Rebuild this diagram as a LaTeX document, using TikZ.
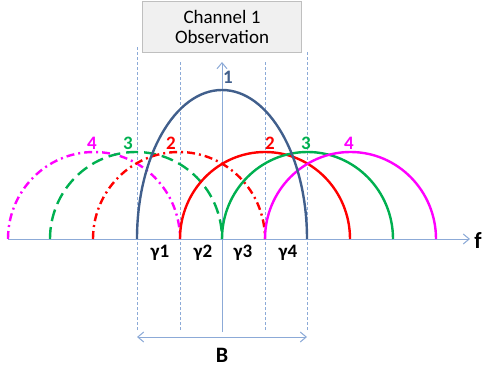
\documentclass[tikz,border=0pt]{standalone}
\usepackage{fontspec}
\setmainfont{Carlito}
\usepackage{tikz}
\usetikzlibrary{arrows.meta, positioning}
\definecolor{chBlue}{RGB}{65, 95, 140}
\definecolor{chRed}{RGB}{255, 0, 0}
\definecolor{chGreen}{RGB}{0, 176, 80}
\definecolor{chMag}{RGB}{255, 0, 255}
\definecolor{axisCol}{RGB}{140, 170, 215}
\definecolor{boxFill}{RGB}{240, 240, 240}
\definecolor{boxLine}{RGB}{191, 191, 191}

\begin{document}
\begin{tikzpicture}[x=1pt, y=1pt, >={Straight Barb[length=6pt, width=10pt]},
  axisline/.style={axisCol, line width=1pt},
  guide/.style={axisCol, line width=0.8pt, dash pattern=on 3pt off 2pt},
  lobe/.style={line width=2.4pt},
  dashdotted/.style={dash pattern=on 8pt off 4pt on 2pt off 4pt},
  longdash/.style={dash pattern=on 12pt off 6pt},
  lbl/.style={font=\fontsize{19}{19}\selectfont\bfseries, inner sep=0pt},
  gam/.style={font=\fontsize{19}{19}\selectfont\bfseries, inner sep=0pt}]
  \useasboundingbox (0,0) rectangle (482,370);

  % Observation box
  \node[draw=boxLine, fill=boxFill, line width=1pt, minimum width=159pt, minimum height=51pt,
        align=center, font=\fontsize{19}{20}\selectfont] (obs) at (222,343) {Channel 1\\Observation};

  % Axes
  \coordinate (o) at (8,131);
  \coordinate (fend) at (470,131);
  \coordinate (vbot) at (222,38);
  \coordinate (vtop) at (222,308);
  \node[lbl, font=\fontsize{23}{23}\selectfont\bfseries] (f) at (478,129) {f};
  \draw[axisline, ->] (o) -- (fend);
  \draw[axisline, ->] (vbot) -- (vtop);

  % Guides
  \draw[guide] (137,40) -- (137,323);
  \draw[guide] (180,40) -- (180,308);
  \draw[guide] (265,40) -- (265,308);
  \draw[guide] (307,40) -- (307,318);

  % Bandwidth
  \coordinate (bl) at (137,33);
  \coordinate (br) at (307,33);
  \draw[axisline, <->] (bl) -- (br);
  \node[lbl, font=\fontsize{22}{22}\selectfont\bfseries] (B) at (222,15) {B};

  % Left (dashed) lobes
  \draw[lobe, chMag, dashdotted] (8,131) arc[start angle=180, end angle=0, x radius=86, y radius=87];
  \draw[lobe, chGreen, longdash] (50,131) arc[start angle=180, end angle=0, x radius=86, y radius=87];
  \draw[lobe, chRed, dashdotted] (93,131) arc[start angle=180, end angle=0, x radius=86, y radius=87];

  % Right (solid) lobes
  \draw[lobe, chRed] (180,131) arc[start angle=180, end angle=0, x radius=85, y radius=87];
  \draw[lobe, chGreen] (222,131) arc[start angle=180, end angle=0, x radius=85.5, y radius=87];
  \draw[lobe, chMag] (265,131) arc[start angle=180, end angle=0, x radius=85.5, y radius=87];

  % Channel 1
  \draw[lobe, chBlue] (137,131) arc[start angle=180, end angle=0, x radius=85, y radius=149];

  % Lobe labels
  \node[lbl, chBlue] (n1) at (228,293) {1};
  \node[lbl, chMag] (l4) at (92,227) {4};
  \node[lbl, chGreen] (l3) at (128,227) {3};
  \node[lbl, chRed] (l2) at (171,227) {2};
  \node[lbl, chRed] (r2) at (270,227) {2};
  \node[lbl, chGreen] (r3) at (306,227) {3};
  \node[lbl, chMag] (r4) at (349,227) {4};

  % Sub-band labels
  \node[gam] (g1) at (160,117) {γ1};
  \node[gam] (g2) at (203,117) {γ2};
  \node[gam] (g3) at (243,117) {γ3};
  \node[gam] (g4) at (288,117) {γ4};
\end{tikzpicture}
\end{document}
